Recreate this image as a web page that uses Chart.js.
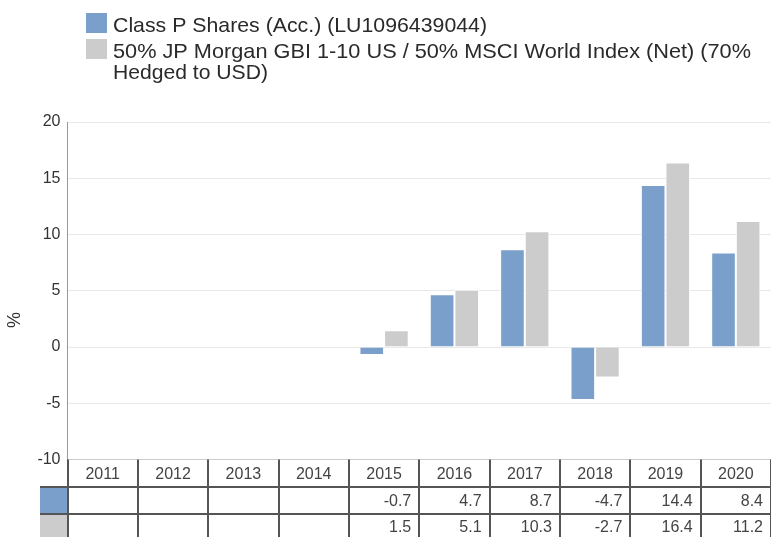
<!DOCTYPE html>
<html>
<head>
<meta charset="utf-8">
<script src="https://cdn.jsdelivr.net/npm/chart.js@4"></script>
<style>
  html, body { margin: 0; padding: 0; background: #fff; }
  #wrap { width: 771px; height: 537px; position: relative; overflow: hidden; }
</style>
</head>
<body>
<div id="wrap"><canvas id="c" width="771" height="537"></canvas></div>
<script>
const categories = ['2011', '2012', '2013', '2014', '2015', '2016', '2017', '2018', '2019', '2020'];
const classP = [null, null, null, null, -0.7, 4.7, 8.7, -4.7, 14.4, 8.4];
const benchmark = [null, null, null, null, 1.5, 5.1, 10.3, -2.7, 16.4, 11.2];
const seriesNames = ['Class P Shares (Acc.) (LU1096439044)',
  '50% JP Morgan GBI 1-10 US / 50% MSCI World Index (Net) (70%',
  'Hedged to USD)'];
const yMin = -10, yMax = 20, yStep = 5;
const colors = ['#7a9fcb', '#cccccc'];

const SANS = '"Liberation Sans", Arial, sans-serif';

const fmt = v => (v === null || v === undefined) ? '' : v.toFixed(1);

function fitText(ctx, text, x, y, targetW) {
  const w = ctx.measureText(text).width;
  const sx = Math.min(1.1, Math.max(0.9, targetW / w));
  ctx.save();
  ctx.translate(x, y);
  ctx.scale(sx, 1);
  ctx.fillText(text, 0, 0);
  ctx.restore();
}

const extras = {
  id: 'extras',
  afterDraw(chart) {
    const ctx = chart.ctx;
    const xs = chart.scales.x;
    const area = chart.chartArea;
    const n = categories.length;
    const colW = (area.right - area.left) / n;
    ctx.save();
    // legend
    ctx.fillStyle = colors[0];
    ctx.fillRect(86, 13, 21, 20);
    ctx.fillStyle = colors[1];
    ctx.fillRect(86, 39, 21, 20);
    ctx.fillStyle = '#2a2a2a';
    ctx.font = '21px ' + SANS;
    ctx.textAlign = 'left';
    ctx.textBaseline = 'alphabetic';
    fitText(ctx, seriesNames[0], 113, 32, 374);
    fitText(ctx, seriesNames[1], 113, 57.5, 638);
    fitText(ctx, seriesNames[2], 113, 79, 155);

    // y title
    ctx.save();
    ctx.translate(15, 320);
    ctx.rotate(-Math.PI / 2);
    ctx.textAlign = 'center';
    ctx.textBaseline = 'middle';
    ctx.font = '18px ' + SANS;
    ctx.fillStyle = '#333';
    ctx.fillText('%', 0, 0);
    ctx.restore();

    // table
    const top = area.bottom;
    const r1 = 487, r2 = 514, bottom = 540;
    ctx.fillStyle = colors[0];
    ctx.fillRect(40, r1, 27, r2 - r1);
    ctx.fillStyle = colors[1];
    ctx.fillRect(40, r2, 27, bottom - r2);

    ctx.strokeStyle = '#555';
    ctx.lineWidth = 2;
    ctx.beginPath();
    for (let i = 0; i <= n; i++) {
      const x = Math.round(xs.getPixelForValue(i) - colW / 2);
      ctx.moveTo(x, top);
      ctx.lineTo(x, bottom);
    }
    ctx.moveTo(40, r1); ctx.lineTo(area.right + 5, r1);
    ctx.moveTo(40, r2); ctx.lineTo(area.right + 5, r2);
    ctx.stroke();

    ctx.fillStyle = '#444';
    ctx.font = '16px ' + SANS;
    ctx.textBaseline = 'middle';
    for (let i = 0; i < n; i++) {
      const cx = xs.getPixelForValue(i);
      ctx.textAlign = 'center';
      ctx.fillText(categories[i], cx, (top + r1) / 2 + 1);
      ctx.textAlign = 'right';
      const rx = cx + colW / 2 - 8;
      ctx.fillText(fmt(classP[i]), rx, (r1 + r2) / 2 + 1);
      ctx.fillText(fmt(benchmark[i]), rx, (r2 + 537) / 2 + 2);
    }
    ctx.restore();
  }
};

new Chart(document.getElementById('c'), {
  type: 'bar',
  data: {
    labels: categories,
    datasets: [
      { label: seriesNames[0], data: classP, backgroundColor: colors[0], borderColor: '#fff', borderWidth: 1, borderSkipped: 'start' },
      { label: seriesNames[1] + ' ' + seriesNames[2], data: benchmark, backgroundColor: colors[1], borderColor: '#fff', borderWidth: 1, borderSkipped: 'start' }
    ]
  },
  options: {
    responsive: false,
    animation: false,
    devicePixelRatio: 1,
    layout: { padding: { top: 122, left: 0, right: 0, bottom: 0 } },
    datasets: { bar: { categoryPercentage: 0.7, barPercentage: 1.0 } },
    plugins: { legend: { display: false }, tooltip: { enabled: false }, title: { display: false } },
    scales: {
      x: {
        grid: { display: false, drawTicks: false },
        border: { display: true, color: '#cccccc', width: 1 },
        ticks: { display: false },
        afterFit(s) { s.height = 77.5; }
      },
      y: {
        min: yMin, max: yMax,
        ticks: { stepSize: yStep, color: '#333', font: { family: SANS, size: 16 }, padding: 7 },
        grid: { color: '#e8e8e8', drawTicks: false },
        border: { display: true, color: '#999', width: 1 },
        afterFit(s) { s.width = 67.5; }
      }
    }
  },
  plugins: [extras]
});
</script>
</body>
</html>
